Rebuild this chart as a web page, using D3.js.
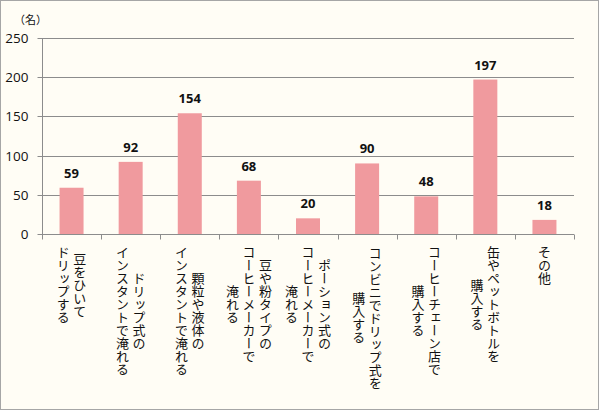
<!DOCTYPE html>
<html><head><meta charset="utf-8">
<script src="https://cdn.jsdelivr.net/npm/d3@7"></script>
<style>body{margin:0;background:#fff;}svg{display:block;}</style>
</head><body>
<script>
const categories = [
  ["豆をひいて","ドリップする"],
  ["ドリップ式の","インスタントで淹れる"],
  ["顆粒や液体の","インスタントで淹れる"],
  ["豆や粉タイプの","コーヒーメーカーで","淹れる"],
  ["ポーション式の","コーヒーメーカーで","淹れる"],
  ["コンビニでドリップ式を","購入する"],
  ["コーヒーチェーン店で","購入する"],
  ["缶やペットボトルを","購入する"],
  ["その他"]
];
const values = [59, 92, 154, 68, 20, 90, 48, 197, 18];
const yTicks = [0, 50, 100, 150, 200, 250];
const unitLabel = "（名）";

(function(){
const W = 600, H = 411;
const svg = d3.select("body").append("svg").attr("width", W).attr("height", H);
svg.append("rect").attr("x",0.5).attr("y",0.5).attr("width",598).attr("height",409)
  .attr("fill","#fffdf5").attr("stroke","#a6a6a6").attr("stroke-width",1);

const x = d3.scaleBand().domain(d3.range(categories.length)).range([42, 574]).paddingInner(0).paddingOuter(0);
const y = d3.scaleLinear().domain([0, 250]).range([234, 38]);
const grid = "#8c8c8c";
const jp = "'Noto Sans CJK JP', sans-serif";
const num = "'Open Sans','Liberation Sans',sans-serif";

svg.append("g").selectAll("line").data(yTicks.filter(d=>d>0)).join("line")
  .attr("x1",42).attr("x2",574).attr("y1",d=>Math.round(y(d))+0.5).attr("y2",d=>Math.round(y(d))+0.5)
  .attr("stroke",grid).attr("stroke-width",1);

const ya = svg.append("g").attr("transform","translate(42.5,0.5)")
  .call(d3.axisLeft(y).tickValues(yTicks).tickSize(5).tickPadding(9));
ya.select(".domain").attr("stroke",grid).attr("d","M0,"+Math.round(y(250))+"V"+Math.round(y(0)));
ya.selectAll(".tick line").attr("stroke",grid);
ya.selectAll(".tick text").attr("font-family",num).attr("font-size",13.5).attr("fill","#111");
ya.selectAll(".tick").attr("transform", d=>"translate(0,"+Math.round(y(d))+")");

svg.append("g").selectAll("rect").data(values).join("rect")
  .attr("x",(d,i)=>x(i)+x.bandwidth()/2-12).attr("width",24)
  .attr("y",d=>y(d)).attr("height",d=>y(0)-y(d)).attr("fill","#f09a9e");

const xa = svg.append("g").attr("transform","translate(0,"+(Math.round(y(0))+0.5)+")");
xa.append("line").attr("x1",42).attr("x2",574).attr("stroke",grid);
xa.selectAll("line.t").data(d3.range(categories.length+1)).join("line").attr("class","t")
  .attr("x1",i=>Math.round(42+i*x.step())+0.5).attr("x2",i=>Math.round(42+i*x.step())+0.5)
  .attr("y1",0).attr("y2",5).attr("stroke",grid);

svg.append("g").selectAll("text").data(values).join("text")
  .attr("x",(d,i)=>x(i)+x.bandwidth()/2).attr("y",d=>y(d)-10)
  .attr("text-anchor","middle").attr("font-family",num).attr("font-weight","bold")
  .attr("font-size",13).attr("fill","#111").text(d=>d);

const charH = 13.2, lineGap = 16.5, labelTop = 245;
categories.forEach((lines,i)=>{
  const cx = x(i)+x.bandwidth()/2;
  const n = lines.length;
  const maxLen = d3.max(lines, l=>l.length);
  const midY = labelTop + maxLen*charH/2;
  lines.forEach((line,j)=>{
    const lx = cx + ((n-1)/2 - j)*lineGap;
    svg.append("text")
      .attr("x",lx).attr("y",midY)
      .attr("text-anchor","middle")
      .attr("style","writing-mode:vertical-rl;text-orientation:upright;")
      .attr("font-family",jp).attr("font-size",13).attr("fill","#111")
      .text(line);
  });
});

svg.append("text").attr("x",14).attr("y",24).attr("font-family",jp).attr("font-size",11)
  .attr("fill","#111").text(unitLabel);
})();
</script>
</body></html>
